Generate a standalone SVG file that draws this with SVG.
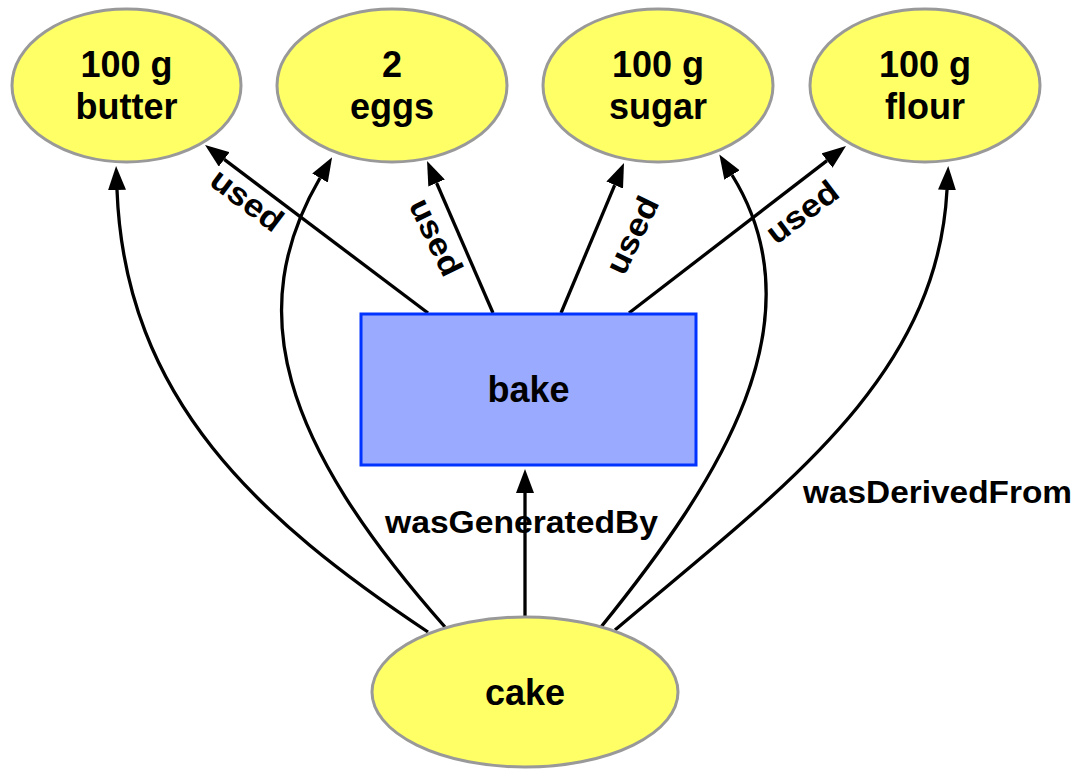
<svg xmlns="http://www.w3.org/2000/svg" width="1079" height="770" viewBox="0 0 1079 770">
  <style>
    .entity { fill: #ffff66; stroke: #999999; stroke-width: 3; }
    .activity { fill: #99aaff; stroke: #0033ff; stroke-width: 3; }
    .name { font-family: "Liberation Sans", Arial, sans-serif; font-weight: bold; font-size: 36px; fill: #000; text-anchor: middle; }
    .label { font-family: "Liberation Sans", Arial, sans-serif; font-weight: bold; font-size: 32px; fill: #000; text-anchor: middle; }
    .edge { fill: none; stroke: #000; stroke-width: 3.3; }
  </style>
  <defs>
    <marker id="arrow" viewBox="0 0 24 18" refX="0" refY="9" markerWidth="24" markerHeight="18" markerUnits="userSpaceOnUse" orient="auto">
      <polygon points="0,0 24,9 0,18" fill="#000"/>
    </marker>
  </defs>

  <!-- connectors -->
  <g id="edges">
    <!-- bake used the ingredients -->
    <path class="edge" marker-end="url(#arrow)" d="M428,313 L224.2,159.4"/>
    <path class="edge" marker-end="url(#arrow)" d="M493,313 L436.6,183"/>
    <path class="edge" marker-end="url(#arrow)" d="M561,313 L614.7,185.1"/>
    <path class="edge" marker-end="url(#arrow)" d="M629,313 L827,160.6"/>
    <!-- cake was generated by bake -->
    <path class="edge" marker-end="url(#arrow)" d="M525,617 L525,493"/>
    <!-- cake was derived from the ingredients -->
    <path class="edge" marker-end="url(#arrow)" d="M428,632 C260,520 125,400 117,190"/>
    <path class="edge" marker-end="url(#arrow)" d="M445,627 C280,440 243,310 320,178"/>
    <path class="edge" marker-end="url(#arrow)" d="M601,627 C720,480 822,320 732,175"/>
    <path class="edge" marker-end="url(#arrow)" d="M615,630 C780,490 937,380 947,190"/>

    <text class="label" transform="translate(247,200) rotate(37)" y="11" textLength="82" lengthAdjust="spacingAndGlyphs">used</text>
    <text class="label" transform="translate(436,237) rotate(64)" y="11" textLength="82" lengthAdjust="spacingAndGlyphs">used</text>
    <text class="label" transform="translate(632,235) rotate(-64)" y="11" textLength="82" lengthAdjust="spacingAndGlyphs">used</text>
    <text class="label" transform="translate(802,212) rotate(-37)" y="11" textLength="82" lengthAdjust="spacingAndGlyphs">used</text>
    <text class="label" x="521.5" y="533" textLength="273" lengthAdjust="spacingAndGlyphs">wasGeneratedBy</text>
    <text class="label" x="937.5" y="503" textLength="269" lengthAdjust="spacingAndGlyphs">wasDerivedFrom</text>
  </g>

  <g id="butter">
    <ellipse class="entity" cx="126.5" cy="85.5" rx="114.5" ry="76.5"/>
    <text class="name" x="126.5" y="77">100 g</text>
    <text class="name" x="126.5" y="119">butter</text>
  </g>
  <g id="eggs">
    <ellipse class="entity" cx="392" cy="85.5" rx="115" ry="76.5"/>
    <text class="name" x="392" y="77">2</text>
    <text class="name" x="392" y="119">eggs</text>
  </g>
  <g id="sugar">
    <ellipse class="entity" cx="658" cy="85.5" rx="115" ry="76.5"/>
    <text class="name" x="658" y="77">100 g</text>
    <text class="name" x="658" y="119">sugar</text>
  </g>
  <g id="flour">
    <ellipse class="entity" cx="925" cy="85.5" rx="115" ry="76.5"/>
    <text class="name" x="925" y="77">100 g</text>
    <text class="name" x="925" y="119">flour</text>
  </g>

  <g id="bake">
    <rect class="activity" x="361" y="314" width="335" height="151"/>
    <text class="name" x="528.5" y="402">bake</text>
  </g>

  <g id="cake">
    <ellipse class="entity" cx="525" cy="692" rx="153" ry="75"/>
    <text class="name" x="525" y="705">cake</text>
  </g>
</svg>
